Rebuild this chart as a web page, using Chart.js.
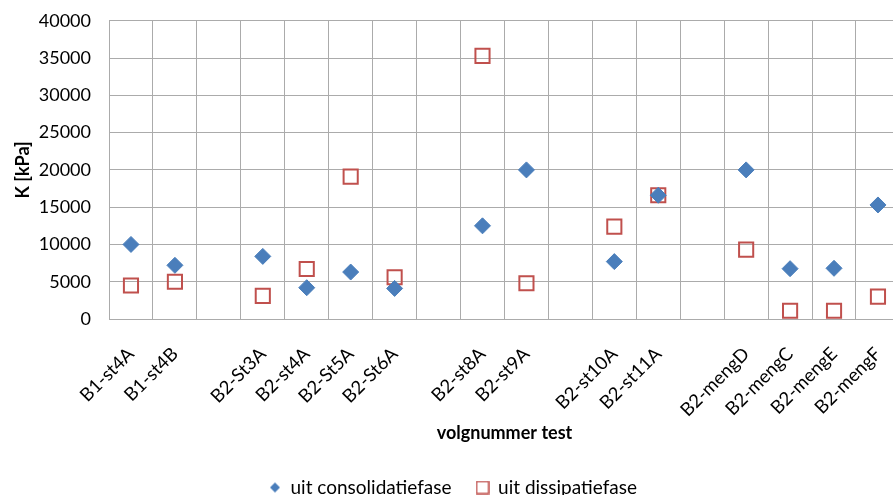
<!DOCTYPE html>
<html>
<head>
<meta charset="utf-8">
<script src="https://cdn.jsdelivr.net/npm/chart.js@4"></script>
<style>
html, body { margin: 0; padding: 0; background: #fff; overflow: hidden; }
#wrap { width: 893px; height: 495px; overflow: hidden; }
#chart1 { margin-top: -8px; display: block; }
</style>
</head>
<body>
<div id="wrap"><canvas id="chart1" width="918" height="515"></canvas></div>
<script>
// categorieen (lege plekken = scheiding tussen groepen)
const categories = ["B1-st4A", "B1-st4B", "", "B2-St3A", "B2-st4A", "B2-St5A", "B2-St6A", "",
    "B2-st8A", "B2-st9A", "", "B2-st10A", "B2-st11A", "", "B2-mengD", "B2-mengC", "B2-mengE", "B2-mengF"];
const consolidatie = [10000, 7200, null, 8400, 4200, 6300, 4100, null,
    12500, 20000, null, 7700, 16600, null, 20000, 6750, 6800, 15300];
const dissipatie = [4500, 5000, null, 3100, 6700, 19100, 5600, null,
    35300, 4800, null, 12400, 16600, null, 9300, 1100, 1100, 3000];
const yTicks = [0, 5000, 10000, 15000, 20000, 25000, 30000, 35000, 40000];

const blue = "#4a7ebb";
const red = "#c0504d";
const grid = "#ababab";
const font = "Lato";

// kleine markers voor de legenda
function marker(kind) {
    const c = document.createElement("canvas");
    c.width = 14; c.height = 14;
    const g = c.getContext("2d");
    if (kind === "diamond") {
        g.fillStyle = blue;
        g.beginPath();
        g.moveTo(7, 2); g.lineTo(12, 7); g.lineTo(7, 12); g.lineTo(2, 7);
        g.closePath();
        g.fill();
    } else {
        g.strokeStyle = red;
        g.lineWidth = 1.5;
        g.strokeRect(1, 1, 12, 12);
    }
    return c;
}
const legendMarkers = [marker("diamond"), marker("square")];

const chart1 = document.getElementById("chart1");

const chart = new Chart(chart1, {
    type: "line",
    data: {
        labels: categories,
        datasets: [{
            label: "uit consolidatiefase",
            data: consolidatie,
            showLine: false,
            pointStyle: "rectRot",
            pointRadius: 8,
            backgroundColor: blue,
            borderColor: blue,
            borderWidth: 1
        }, {
            label: "uit dissipatiefase",
            data: dissipatie,
            showLine: false,
            pointStyle: "rect",
            pointRadius: 10,
            backgroundColor: "rgba(255,255,255,0)",
            borderColor: red,
            borderWidth: 2
        }]
    },
    options: {
        responsive: false,
        animation: false,
        layout: { padding: { top: 12, right: 12, left: 0, bottom: 0 } },
        plugins: {
            tooltip: { enabled: false },
            legend: {
                position: "bottom",
                labels: {
                    usePointStyle: true,
                    boxWidth: 12,
                    boxHeight: 12,
                    padding: 25,
                    color: "#000",
                    font: { family: font, size: 19 },
                    generateLabels(ch) {
                        const items = Chart.defaults.plugins.legend.labels.generateLabels(ch);
                        items.forEach((it, i) => { it.pointStyle = legendMarkers[i]; });
                        return items;
                    }
                }
            }
        },
        scales: {
            x: {
                offset: true,
                grid: { offset: true, color: grid, drawTicks: false },
                border: { color: grid },
                ticks: {
                    autoSkip: false,
                    minRotation: 45,
                    maxRotation: 45,
                    padding: 24,
                    color: "#000",
                    font: { family: font, size: 18.5 }
                },
                title: {
                    display: true,
                    text: "volgnummer test",
                    color: "#000",
                    padding: { top: 0, bottom: 9 },
                    font: { family: font, size: 18, weight: "bold" }
                },
                afterFit(scale) { scale.height = 134; }
            },
            y: {
                min: 0,
                max: 40000,
                afterBuildTicks(scale) { scale.ticks = yTicks.map(v => ({ value: v })); },
                grid: { color: grid, drawTicks: false },
                border: { color: grid },
                ticks: {
                    padding: 18,
                    color: "#000",
                    font: { family: font, size: 18 },
                    callback: v => String(v)
                },
                title: {
                    display: true,
                    text: "K [kPa]",
                    color: "#000",
                    padding: { top: 12, bottom: 0 },
                    font: { family: font, size: 18, weight: "bold" }
                },
                afterFit(scale) { scale.width = 109; }
            }
        }
    }
});
</script>
</body>
</html>
